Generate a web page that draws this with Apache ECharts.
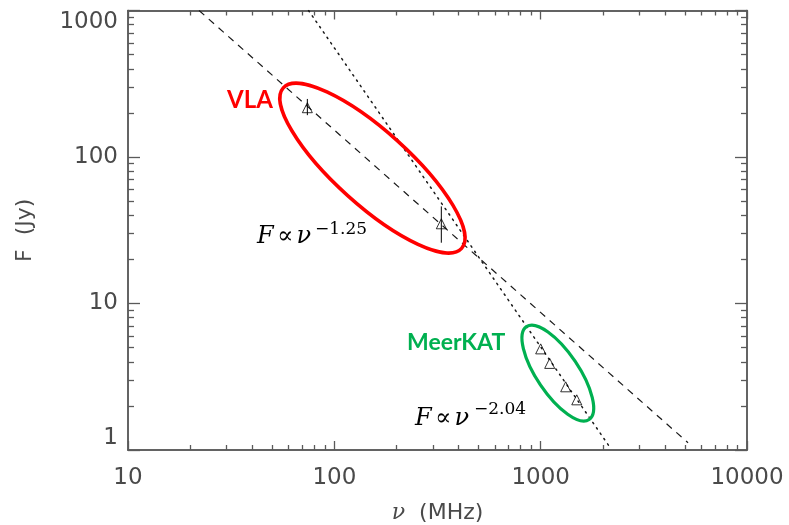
<!DOCTYPE html>
<html><head><meta charset="utf-8">
<script src="https://cdn.jsdelivr.net/npm/echarts@6/dist/echarts.min.js"></script>
<style>html,body{margin:0;padding:0;background:#fff}#c{width:789px;height:525px}</style>
</head><body><div id="c"></div>
<script>
// ---- data ----
const xMajorTicks = [10, 100, 1000, 10000];
const xMinorTicks = [20,30,40,50,60,70,80,90,200,300,400,500,600,700,800,900,2000,3000,4000,5000,6000,7000,8000,9000];
const yMajorTicks = [1, 10, 100, 1000];
const yMinorTicks = [2,3,4,5,6,7,8,9,20,30,40,50,60,70,80,90,200,300,400,500,600,700,800,900];

const vlaFreq = [74, 330];
const vlaFlux = [217, 35];
const vlaErrLow = [193, 26];
const vlaErrHigh = [249, 46];

const meerFreq = [1000, 1106, 1322, 1496];
const meerFlux = [4.9, 3.9, 2.7, 2.2];

const fitSteep = [[22.1, 1000], [5180, 1.12]];   // F ∝ ν^-1.25 (dashed)
const fitMeer = [[75, 1000], [2140, 1.07]];      // F ∝ ν^-2.04 (dotted)

const groupCentres = [[153, 84], [1211, 3.35]];  // VLA, MeerKAT annotation ellipses

// ---- styles ----
const ellipseStyles = [
  {rx: 120, ry: 37, angle: 42, color: '#ff0000', width: 3.5},
  {rx: 56, ry: 21, angle: 56, color: '#00b050', width: 3.2}
];
const axisColor = '#5a5a5a';
const labelFont = {fontFamily: 'DejaVu Sans', fontSize: 23, color: '#4a4a4a'};
const plainNum = v => String(Math.round(v));

function xAxisDef(pos, ticks, len, labels) {
  return {
    type: 'log', logBase: 10, min: 10, max: 10000, position: pos,
    axisLine: {show: true, lineStyle: {color: axisColor, width: 1.5}},
    axisTick: {show: true, inside: true, length: len, customValues: ticks, lineStyle: {color: axisColor, width: 1.3}},
    axisLabel: labels ? Object.assign({show: true, customValues: xMajorTicks, margin: 17, formatter: plainNum}, labelFont) : {show: false},
    splitLine: {show: false}, minorTick: {show: false}, minorSplitLine: {show: false}
  };
}
function yAxisDef(pos, ticks, len, labels) {
  return {
    type: 'log', logBase: 10, min: 1, max: 1000, position: pos,
    axisLine: {show: true, lineStyle: {color: axisColor, width: 1.5}},
    axisTick: {show: true, inside: true, length: len, customValues: ticks, lineStyle: {color: axisColor, width: 1.3}},
    axisLabel: labels ? Object.assign({show: true, customValues: yMajorTicks, margin: 10, formatter: plainNum,
      verticalAlignMinLabel: 'bottom', verticalAlignMaxLabel: 'top'}, labelFont) : {show: false},
    splitLine: {show: false}, minorTick: {show: false}, minorSplitLine: {show: false}
  };
}

const xAxes = [
  xAxisDef('bottom', xMajorTicks, 9, true),
  xAxisDef('bottom', xMinorTicks, 5, false),
  xAxisDef('top', xMajorTicks, 9, false),
  xAxisDef('top', xMinorTicks, 5, false)
];
Object.assign(xAxes[0], {
  name: '{nu|ν}  (MHz)', nameLocation: 'middle', nameGap: 52,
  nameTextStyle: {fontFamily: 'DejaVu Sans', fontSize: 22, color: '#4a4a4a',
    rich: {nu: {fontFamily: 'DejaVu Serif', fontStyle: 'italic', fontSize: 22, color: '#4a4a4a'}}}
});
const yAxes = [
  yAxisDef('left', yMajorTicks, 12, true),
  yAxisDef('left', yMinorTicks, 6, false),
  yAxisDef('right', yMajorTicks, 12, false),
  yAxisDef('right', yMinorTicks, 6, false)
];
Object.assign(yAxes[0], {
  name: 'F  (Jy)', nameLocation: 'middle', nameGap: 92, nameRotate: 90,
  nameTextStyle: {fontFamily: 'DejaVu Sans', fontSize: 22, color: '#4a4a4a'}
});

const triStyle = {color: 'rgba(0,0,0,0)', borderColor: '#000', borderWidth: 1};

const chart = echarts.init(document.getElementById('c'), null, {renderer: 'canvas'});
chart.setOption({
  animation: false,
  backgroundColor: '#fff',
  grid: {left: 128, right: 42, top: 10.5, bottom: 75, containLabel: false, outerBoundsMode: 'none'},
  xAxis: xAxes,
  yAxis: yAxes,
  series: [
    {type: 'line', data: fitSteep, symbol: 'none', silent: true,
     lineStyle: {color: '#1a1a1a', width: 1.2, type: [7, 6]}, z: 3},
    {type: 'line', data: fitMeer, symbol: 'none', silent: true,
     lineStyle: {color: '#1a1a1a', width: 1.5, type: [1.5, 5], cap: 'round'}, z: 3},
    {type: 'custom', silent: true, z: 4,
     data: vlaFreq.map((f, i) => [f, vlaErrLow[i], vlaErrHigh[i]]),
     renderItem: function (params, api) {
       const a = api.coord([api.value(0), api.value(1)]);
       const b = api.coord([api.value(0), api.value(2)]);
       return {type: 'line', shape: {x1: a[0], y1: a[1], x2: b[0], y2: b[1]},
               style: {stroke: '#000', lineWidth: 1}};
     }},
    {type: 'scatter', name: 'VLA', data: vlaFreq.map((f, i) => [f, vlaFlux[i]]),
     symbol: 'triangle', symbolSize: [10, 10], itemStyle: triStyle, z: 5},
    {type: 'scatter', name: 'MeerKAT', data: meerFreq.map((f, i) => [f, meerFlux[i]]),
     symbol: 'triangle', symbolSize: [10, 10], itemStyle: triStyle, z: 5},
    {type: 'custom', silent: true, z: 6, data: groupCentres,
     renderItem: function (params, api) {
       const c = api.coord([api.value(0), api.value(1)]);
       const e = ellipseStyles[params.dataIndex];
       return {type: 'ellipse', x: c[0], y: c[1], rotation: -e.angle * Math.PI / 180,
               shape: {cx: 0, cy: 0, rx: e.rx, ry: e.ry},
               style: {fill: 'none', stroke: e.color, lineWidth: e.width}};
     }}
  ],
  graphic: [
    {type: 'text', left: 227, top: 88, z: 10,
     style: {text: 'VLA', fontFamily: 'Lato', fontWeight: 'bold', fontSize: 24, fill: '#ff0000'}},
    {type: 'text', left: 407, top: 331, z: 10,
     style: {text: 'MeerKAT', fontFamily: 'Lato', fontWeight: 'bold', fontSize: 23, fill: '#00b050'}},
    {type: 'text', x: 257, y: 236.5, z: 10,
     style: {text: '{i|F} {r|∝} {i|ν}', verticalAlign: 'middle', fill: '#000',
       rich: {i: {fontFamily: 'DejaVu Serif', fontStyle: 'italic', fontSize: 24, fill: '#000'},
              r: {fontFamily: 'DejaVu Serif', fontSize: 24, fill: '#000'}}}},
    {type: 'text', x: 315, y: 230, z: 10,
     style: {text: '−1.25', verticalAlign: 'middle', fontFamily: 'DejaVu Serif', fontSize: 17, fill: '#000'}},
    {type: 'text', x: 415, y: 419, z: 10,
     style: {text: '{i|F} {r|∝} {i|ν}', verticalAlign: 'middle', fill: '#000',
       rich: {i: {fontFamily: 'DejaVu Serif', fontStyle: 'italic', fontSize: 24, fill: '#000'},
              r: {fontFamily: 'DejaVu Serif', fontSize: 24, fill: '#000'}}}},
    {type: 'text', x: 474, y: 409.5, z: 10,
     style: {text: '−2.04', verticalAlign: 'middle', fontFamily: 'DejaVu Serif', fontSize: 17, fill: '#000'}}
  ]
});
</script>
</body></html>
